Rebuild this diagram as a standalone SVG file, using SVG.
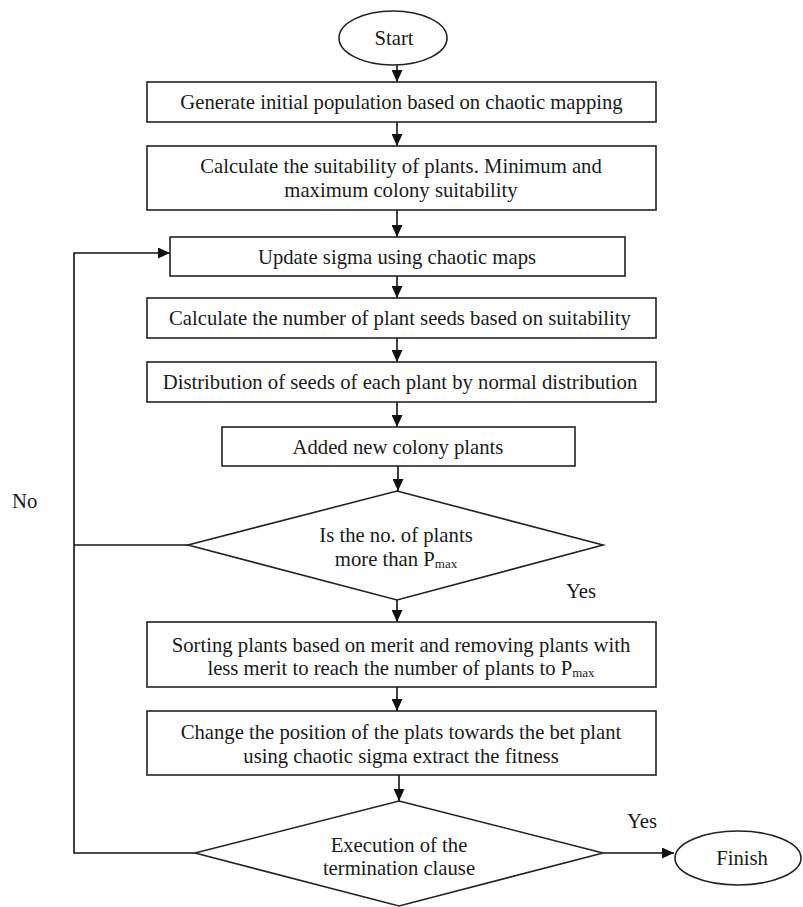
<svg xmlns="http://www.w3.org/2000/svg" width="803" height="907" viewBox="0 0 803 907">
<style>
.box{fill:#fff;stroke:#222;stroke-width:1.6}
.t{font-family:"Liberation Serif","Times New Roman",serif;font-size:20.7px;fill:#1a1a1a;text-anchor:middle}
.l{font-family:"Liberation Serif","Times New Roman",serif;font-size:20.7px;fill:#1a1a1a}
.sub{font-size:13px}
.c{fill:none;stroke:#111;stroke-width:1.6}
</style>
<defs>
<marker id="ah" markerUnits="userSpaceOnUse" markerWidth="12" markerHeight="11" refX="12" refY="5.5" orient="auto">
<path d="M0,0 L12,5.5 L0,11 z" fill="#111"/>
</marker>
</defs>
<rect width="803" height="907" fill="#fff"/>
<g id="connectors">
<line class="c" x1="397" y1="65" x2="397" y2="82" marker-end="url(#ah)"/>
<line class="c" x1="397" y1="122" x2="397" y2="146" marker-end="url(#ah)"/>
<line class="c" x1="397" y1="210" x2="397" y2="237" marker-end="url(#ah)"/>
<line class="c" x1="397" y1="276" x2="397" y2="298" marker-end="url(#ah)"/>
<line class="c" x1="397" y1="338" x2="397" y2="362" marker-end="url(#ah)"/>
<line class="c" x1="397" y1="402" x2="397" y2="427" marker-end="url(#ah)"/>
<line class="c" x1="398" y1="466" x2="398" y2="491" marker-end="url(#ah)"/>
<line class="c" x1="397" y1="600" x2="397" y2="622" marker-end="url(#ah)"/>
<line class="c" x1="397" y1="687" x2="397" y2="711" marker-end="url(#ah)"/>
<line class="c" x1="399" y1="775" x2="399" y2="801" marker-end="url(#ah)"/>
<polyline class="c" points="195,853 74,853 74,253 170,253" marker-end="url(#ah)"/>
<line class="c" x1="188" y1="545" x2="74" y2="545"/>
<line class="c" x1="603" y1="853" x2="674" y2="853" marker-end="url(#ah)"/>
<text class="l" x="12" y="508">No</text>
<text class="l" x="566" y="598">Yes</text>
<text class="l" x="627" y="828">Yes</text>
</g>
<g id="start">
<ellipse class="box" cx="393" cy="38" rx="54" ry="27"/>
<text class="t" x="394" y="45">Start</text>
</g>
<g id="n1">
<rect class="box" x="147" y="82" width="509" height="40"/>
<text class="t" x="401.5" y="109">Generate initial population based on chaotic mapping</text>
</g>
<g id="n2">
<rect class="box" x="147" y="146" width="509" height="64"/>
<text class="t" x="401" y="173">Calculate the suitability of plants. Minimum and</text>
<text class="t" x="401" y="197">maximum colony suitability</text>
</g>
<g id="n3">
<rect class="box" x="170" y="237" width="455" height="39"/>
<text class="t" x="397" y="264">Update sigma using chaotic maps</text>
</g>
<g id="n4">
<rect class="box" x="147" y="298" width="509" height="40"/>
<text class="t" x="400" y="325">Calculate the number of plant seeds based on suitability</text>
</g>
<g id="n5">
<rect class="box" x="147" y="362" width="509" height="40"/>
<text class="t" x="400" y="389">Distribution of seeds of each plant by normal distribution</text>
</g>
<g id="n6">
<rect class="box" x="222" y="427" width="353" height="39"/>
<text class="t" x="398" y="454">Added new colony plants</text>
</g>
<g id="d1">
<polygon class="box" points="397,491 603,545 397,600 188,545"/>
<text class="t" x="396" y="542">Is the no. of plants</text>
<text class="t" x="396" y="566">more than P<tspan class="sub" dy="2">max</tspan></text>
</g>
<g id="n7">
<rect class="box" x="147" y="622" width="509" height="65"/>
<text class="t" x="401" y="652">Sorting plants based on merit and removing plants with</text>
<text class="t" x="401" y="675">less merit to reach the number of plants to P<tspan class="sub" dy="2">max</tspan></text>
</g>
<g id="n8">
<rect class="box" x="147" y="711" width="509" height="64"/>
<text class="t" x="401" y="739">Change the position of the plats towards the bet plant</text>
<text class="t" x="401" y="763">using chaotic sigma extract the fitness</text>
</g>
<g id="d2">
<polygon class="box" points="399,801 603,853 399,906 195,853"/>
<text class="t" x="399" y="852">Execution of the</text>
<text class="t" x="399" y="875">termination clause</text>
</g>
<g id="finish">
<ellipse class="box" cx="738" cy="858" rx="63" ry="27"/>
<text class="t" x="742" y="865">Finish</text>
</g>
</svg>
